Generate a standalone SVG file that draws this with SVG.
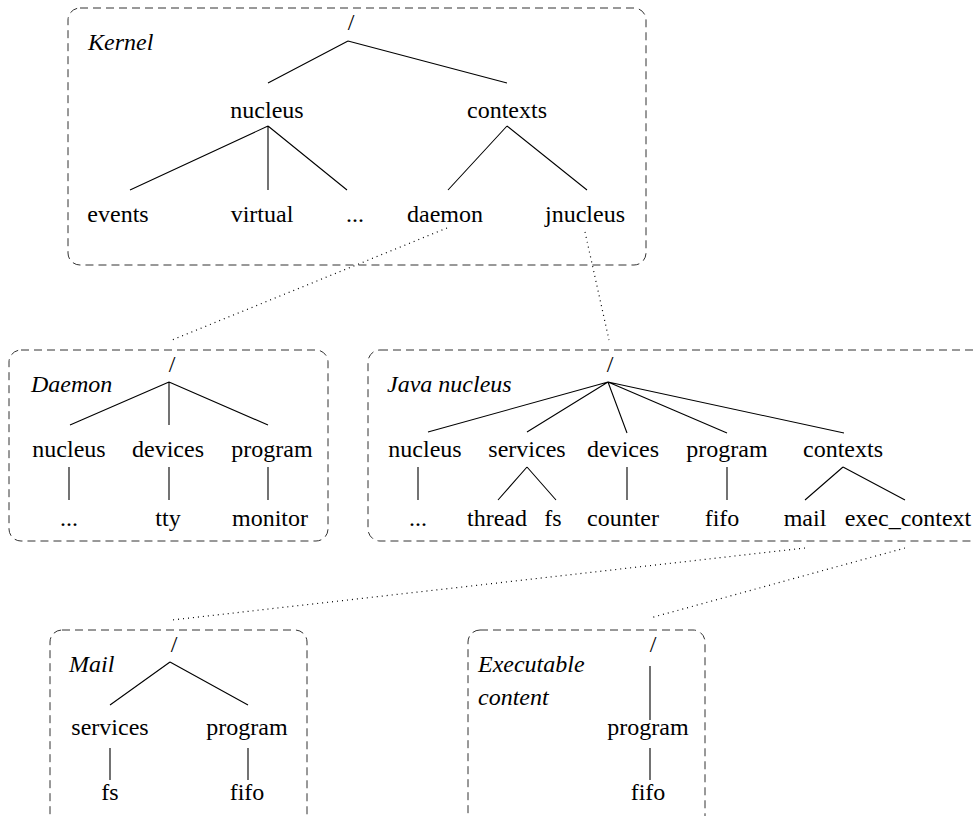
<svg xmlns="http://www.w3.org/2000/svg" width="974" height="816" viewBox="0 0 974 816" font-family="'Liberation Serif', 'DejaVu Serif', serif">
  <style>
    .box { fill: none; stroke: #333; stroke-width: 1; stroke-dasharray: 8 5; }
    .edge { stroke: #000; stroke-width: 1.1; fill: none; }
    .link { stroke: #000; stroke-width: 1.2; stroke-dasharray: 1 4; fill: none; }
    text { font-family: 'Liberation Serif', 'DejaVu Serif', serif; font-size: 24px; fill: #000; }
    .t { text-anchor: middle; }
    .title { font-style: italic; }
  </style>
  <rect width="974" height="816" fill="#fff"/>

  <!-- dotted links between a context leaf and its expanded namespace -->
  <g id="connectors">
    <line class="link" x1="447" y1="228" x2="172" y2="340"/>
    <line class="link" x1="585" y1="232" x2="609" y2="340"/>
    <line class="link" x1="805" y1="548" x2="172" y2="620"/>
    <line class="link" x1="905" y1="548" x2="650" y2="618"/>
  </g>

  <!-- Kernel namespace -->
  <g id="kernel">
    <rect class="box" x="68" y="8" width="578" height="257" rx="12"/>
    <text class="title" x="88" y="50">Kernel</text>
    <text class="t" x="351" y="30">/</text>
    <path class="edge" d="M348 41 L268 83 M348 41 L507 83"/>
    <text class="t" x="267" y="118">nucleus</text>
    <text class="t" x="507" y="118">contexts</text>
    <path class="edge" d="M268 126 L130 190 M268 126 L268 190 M268 126 L347 190 M507 126 L448 190 M507 126 L587 190"/>
    <text class="t" x="118" y="222">events</text>
    <text class="t" x="262" y="222">virtual</text>
    <text class="t" x="355" y="222">...</text>
    <text class="t" x="445" y="222">daemon</text>
    <text class="t" x="585" y="222">jnucleus</text>
  </g>

  <!-- Daemon namespace -->
  <g id="daemon">
    <rect class="box" x="9" y="350" width="319" height="191" rx="12"/>
    <text class="title" x="31" y="392">Daemon</text>
    <text class="t" x="172" y="372">/</text>
    <path class="edge" d="M169 382 L70 425 M169 382 L169 425 M169 382 L268 425"/>
    <text class="t" x="69" y="457">nucleus</text>
    <text class="t" x="168" y="457">devices</text>
    <text class="t" x="272" y="457">program</text>
    <path class="edge" d="M69 467 L69 500 M169 467 L169 500 M268 467 L268 500"/>
    <text class="t" x="69" y="526">...</text>
    <text class="t" x="168" y="526">tty</text>
    <text class="t" x="270" y="526">monitor</text>
  </g>

  <!-- Java nucleus namespace -->
  <g id="java-nucleus">
    <rect class="box" x="368" y="350" width="620" height="191" rx="12"/>
    <text class="title" x="387" y="392">Java nucleus</text>
    <text class="t" x="610" y="372">/</text>
    <path class="edge" d="M608 382 L428 432 M608 382 L527 432 M608 382 L627 433 M608 382 L727 433 M608 382 L844 433"/>
    <text class="t" x="425" y="457">nucleus</text>
    <text class="t" x="527" y="457">services</text>
    <text class="t" x="623" y="457">devices</text>
    <text class="t" x="727" y="457">program</text>
    <text class="t" x="843" y="457">contexts</text>
    <path class="edge" d="M418 467 L418 500 M527 467 L498 500 M527 467 L556 500 M627 467 L627 500 M727 467 L727 500 M843 467 L805 500 M843 467 L905 500"/>
    <text class="t" x="418" y="526">...</text>
    <text class="t" x="497" y="526">thread</text>
    <text class="t" x="553" y="526">fs</text>
    <text class="t" x="623" y="526">counter</text>
    <text class="t" x="722" y="526">fifo</text>
    <text class="t" x="805" y="526">mail</text>
    <text class="t" x="908" y="526">exec_context</text>
  </g>

  <!-- Mail namespace -->
  <g id="mail">
    <rect class="box" x="50" y="630" width="257" height="200" rx="12"/>
    <text class="title" x="69" y="672">Mail</text>
    <text class="t" x="174" y="652">/</text>
    <path class="edge" d="M170 662 L110 705 M170 662 L248 705"/>
    <text class="t" x="110" y="735">services</text>
    <text class="t" x="247" y="735">program</text>
    <path class="edge" d="M110 748 L110 780 M248 748 L248 780"/>
    <text class="t" x="110" y="800">fs</text>
    <text class="t" x="247" y="800">fifo</text>
  </g>

  <!-- Executable content namespace -->
  <g id="executable-content">
    <rect class="box" x="468" y="630" width="237" height="200" rx="12"/>
    <text class="title" x="478" y="672">Executable</text>
    <text class="title" x="478" y="705">content</text>
    <text class="t" x="653" y="652">/</text>
    <path class="edge" d="M650 666 L650 720 M650 748 L650 780"/>
    <text class="t" x="648" y="735">program</text>
    <text class="t" x="648" y="800">fifo</text>
  </g>
</svg>
